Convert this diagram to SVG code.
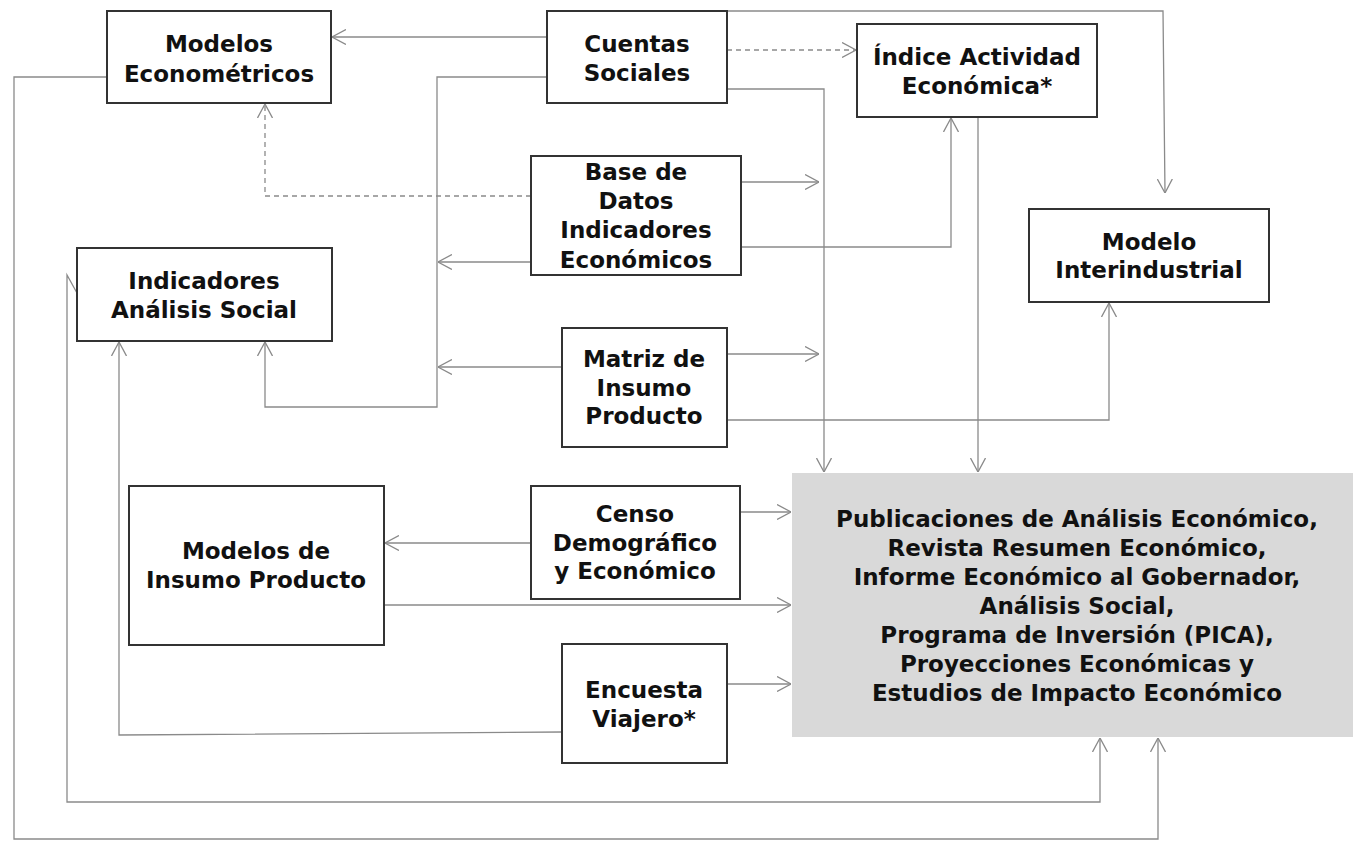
<svg xmlns="http://www.w3.org/2000/svg" width="1353" height="841" viewBox="0 0 1353 841">
<style>
.box{fill:#fff;stroke:#333;stroke-width:2}
.out{fill:#d9d9d9;stroke:none}
.t{font-family:"DejaVu Sans","Liberation Sans",sans-serif;font-weight:bold;font-size:23px;fill:#111;text-anchor:middle}
.c{fill:none;stroke:#8a8a8a;stroke-width:1.3}
.d{stroke-dasharray:5,4}
</style>
<defs>
<marker id="a" viewBox="0 0 14 16" refX="14" refY="8" markerWidth="14" markerHeight="16" markerUnits="userSpaceOnUse" orient="auto">
<path d="M0,0.5 L14,8 L0,15.5" fill="none" stroke="#8a8a8a" stroke-width="1.3"/>
</marker>
</defs>
<rect width="1353" height="841" fill="#fff"/>
<g id="connectors">
<path class="c" d="M547,37 H332" marker-end="url(#a)"/>
<path class="c" d="M547,77 H437 V407 H265 V342" marker-end="url(#a)"/>
<path class="c" d="M531,262 H438" marker-end="url(#a)"/>
<path class="c" d="M562,367 H438" marker-end="url(#a)"/>
<path class="c d" d="M727,50 H856" marker-end="url(#a)"/>
<path class="c" d="M713,11 H1163 L1165,193" marker-end="url(#a)"/>
<path class="c" d="M727,89 H824 V472" marker-end="url(#a)"/>
<path class="c" d="M741,182 H819" marker-end="url(#a)"/>
<path class="c" d="M741,247 H951 V118" marker-end="url(#a)"/>
<path class="c" d="M978,117 V472" marker-end="url(#a)"/>
<path class="c" d="M727,354 H819" marker-end="url(#a)"/>
<path class="c" d="M727,420 H1109 V303" marker-end="url(#a)"/>
<path class="c" d="M531,543 H385" marker-end="url(#a)"/>
<path class="c" d="M727,512 H791" marker-end="url(#a)"/>
<path class="c" d="M384,605 H791" marker-end="url(#a)"/>
<path class="c" d="M727,684 H791" marker-end="url(#a)"/>
<path class="c" d="M562,732 L119,735 V342" marker-end="url(#a)"/>
<path class="c" d="M77,293 L67,275 V802 H1100 V738" marker-end="url(#a)"/>
<path class="c" d="M107,77 H14 V839 H1158 V738" marker-end="url(#a)"/>
<path class="c d" d="M531,196 H265 V104" marker-end="url(#a)"/>
</g>
<g id="modelos-econometricos">
<rect class="box" x="107" y="11" width="224" height="92"/>
<text class="t" x="219" y="52">Modelos</text>
<text class="t" x="219" y="82">Econométricos</text>
</g>
<g id="cuentas-sociales">
<rect class="box" x="547" y="11" width="180" height="92"/>
<text class="t" x="637" y="52">Cuentas</text>
<text class="t" x="637" y="81">Sociales</text>
</g>
<g id="indice-actividad">
<rect class="box" x="857" y="24" width="240" height="93"/>
<text class="t" x="977" y="65">Índice Actividad</text>
<text class="t" x="977" y="94">Económica*</text>
</g>
<g id="base-datos">
<rect class="box" x="531" y="156" width="210" height="119"/>
<text class="t" x="636" y="180">Base de</text>
<text class="t" x="636" y="209">Datos</text>
<text class="t" x="636" y="238">Indicadores</text>
<text class="t" x="636" y="268">Económicos</text>
</g>
<g id="modelo-interindustrial">
<rect class="box" x="1029" y="209" width="240" height="93"/>
<text class="t" x="1149" y="250">Modelo</text>
<text class="t" x="1149" y="278">Interindustrial</text>
</g>
<g id="indicadores-analisis-social">
<rect class="box" x="77" y="248" width="255" height="93"/>
<text class="t" x="204" y="289">Indicadores</text>
<text class="t" x="204" y="318">Análisis Social</text>
</g>
<g id="matriz-insumo-producto">
<rect class="box" x="562" y="328" width="165" height="119"/>
<text class="t" x="644" y="367">Matriz de</text>
<text class="t" x="644" y="396">Insumo</text>
<text class="t" x="644" y="424">Producto</text>
</g>
<g id="modelos-insumo-producto">
<rect class="box" x="129" y="486" width="255" height="159"/>
<text class="t" x="256" y="559">Modelos de</text>
<text class="t" x="256" y="588">Insumo Producto</text>
</g>
<g id="censo">
<rect class="box" x="531" y="486" width="209" height="113"/>
<text class="t" x="635" y="522">Censo</text>
<text class="t" x="635" y="551">Demográfico</text>
<text class="t" x="635" y="579">y Económico</text>
</g>
<g id="encuesta-viajero">
<rect class="box" x="562" y="644" width="165" height="119"/>
<text class="t" x="644" y="698">Encuesta</text>
<text class="t" x="644" y="727">Viajero*</text>
</g>
<g id="publicaciones">
<rect class="out" x="792" y="473" width="561" height="264"/>
<text class="t" x="1077" y="527">Publicaciones de Análisis Económico,</text>
<text class="t" x="1077" y="556">Revista Resumen Económico,</text>
<text class="t" x="1077" y="585">Informe Económico al Gobernador,</text>
<text class="t" x="1077" y="614">Análisis Social,</text>
<text class="t" x="1077" y="643">Programa de Inversión (PICA),</text>
<text class="t" x="1077" y="672">Proyecciones Económicas y</text>
<text class="t" x="1077" y="701">Estudios de Impacto Económico</text>
</g>
</svg>
